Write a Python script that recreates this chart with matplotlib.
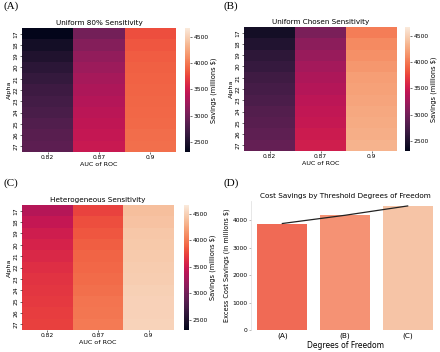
import matplotlib.pyplot as plt
import seaborn as sns
import numpy as np
import pandas as pd

plt.switch_backend('agg')

alphas = [17, 18, 19, 20, 21, 22, 23, 24, 25, 26, 27]
aucs = ['0.82', '0.87', '0.9']

# savings (millions $), one list per AUC column, rows = alpha 17..27
uniform80_082 = [2310, 2430, 2510, 2580, 2640, 2690, 2730, 2770, 2810, 2850, 2880]
uniform80_087 = [3010, 3100, 3170, 3230, 3280, 3320, 3360, 3390, 3420, 3450, 3480]
uniform80_090 = [3800, 3840, 3860, 3880, 3890, 3900, 3910, 3920, 3930, 3945, 3960]

chosen_082 = [2430, 2520, 2590, 2650, 2700, 2740, 2780, 2820, 2850, 2890, 2920]
chosen_087 = [3040, 3140, 3210, 3270, 3320, 3360, 3400, 3430, 3460, 3490, 3520]
chosen_090 = [4030, 4090, 4130, 4170, 4200, 4220, 4240, 4260, 4280, 4300, 4320]

hetero_082 = [3370, 3450, 3510, 3560, 3600, 3630, 3660, 3680, 3700, 3715, 3730]
hetero_087 = [3740, 3800, 3840, 3870, 3900, 3920, 3940, 3960, 3980, 3995, 4010]
hetero_090 = [4400, 4420, 4440, 4455, 4465, 4475, 4485, 4495, 4505, 4512, 4520]

dof_labels = ['(A)', '(B)', '(C)']
dof_savings = [3880, 4180, 4520]

W, H = 440, 352
fig = plt.figure(figsize=(4.4, 3.52), dpi=100)


def rect(x0, y0, x1, y1):
    return [x0 / W, 1 - y1 / H, (x1 - x0) / W, (y1 - y0) / H]


vmin, vmax = 2310, 4670

panels = [
    ('Uniform 80% Sensitivity', [uniform80_082, uniform80_087, uniform80_090],
     (22, 28, 176, 152), (185, 28, 190, 152), (3, 1)),
    ('Uniform Chosen Sensitivity', [chosen_082, chosen_087, chosen_090],
     (244, 27, 397, 151), (405, 27, 410, 151), (224, 1)),
    ('Heterogeneous Sensitivity', [hetero_082, hetero_087, hetero_090],
     (22, 205, 174, 330), (184, 205, 189, 330), (3, 178)),
]
letters = ['(A)', '(B)', '(C)', '(D)']

for k, (title, cols, ax_box, cb_box, lab) in enumerate(panels):
    df = pd.DataFrame(np.array(cols).T, index=alphas, columns=aucs)
    ax = fig.add_axes(rect(*ax_box))
    cax = fig.add_axes(rect(*cb_box))
    sns.heatmap(df, ax=ax, cbar_ax=cax, cmap='rocket', vmin=vmin, vmax=vmax,
                xticklabels=True, yticklabels=True,
                cbar_kws={'ticks': [2500, 3000, 3500, 4000, 4500]})
    ax.set_title(title, fontsize=5.2, pad=2)
    ax.set_xlabel('AUC of ROC', fontsize=4.6, labelpad=1)
    ax.set_ylabel('Alpha', fontsize=4.6, labelpad=1)
    ax.tick_params(labelsize=4.3, length=1.5, width=0.4, pad=1)
    ax.set_yticklabels(alphas, rotation=90, va='center')
    cax.tick_params(labelsize=4.3, length=1.5, width=0.4, pad=1)
    cax.set_ylabel('Savings (millions $)', fontsize=4.8, labelpad=1)
    cax.yaxis.set_label_position('right')
    for sp in cax.spines.values():
        sp.set_visible(False)
    fig.text(lab[0] / W, 1 - lab[1] / H, letters[k], family='Liberation Serif',
             fontsize=8, va='top', ha='left')

# (D) bar chart
axd = fig.add_axes(rect(251, 201, 439, 330))
bar_colors = ['#f06a55', '#f59274', '#f6c4a6']
x = np.arange(len(dof_labels))
axd.bar(x, dof_savings, width=0.8, color=bar_colors)
axd.plot(x, dof_savings, color='#222222', linewidth=0.9)
axd.axhline(0, color='#888888', linestyle='--', linewidth=0.6)
axd.set_xlim(-0.5, 2.5)
axd.set_ylim(0, 4700)
axd.set_xticks(x)
axd.set_xticklabels(dof_labels)
axd.set_yticks([0, 1000, 2000, 3000, 4000])
axd.tick_params(axis='y', labelsize=4.3, length=1.5, width=0.4, pad=1, color='#888888')
axd.tick_params(axis='x', labelsize=5.3, length=0, pad=2)
for s in ['top', 'right', 'bottom']:
    axd.spines[s].set_visible(False)
axd.spines['left'].set_color('#dddddd')
axd.spines['left'].set_linewidth(0.5)
axd.set_title('Cost Savings by Threshold Degrees of Freedom', fontsize=5.2, pad=2)
axd.set_xlabel('Degrees of Freedom', fontsize=5.5, labelpad=1)
axd.set_ylabel('Excess Cost Savings (in millions $)', fontsize=4.7, labelpad=2)
fig.text(224 / W, 1 - 178 / H, letters[3], family='Liberation Serif',
         fontsize=8, va='top', ha='left')

fig.savefig('out.png', dpi=100)
